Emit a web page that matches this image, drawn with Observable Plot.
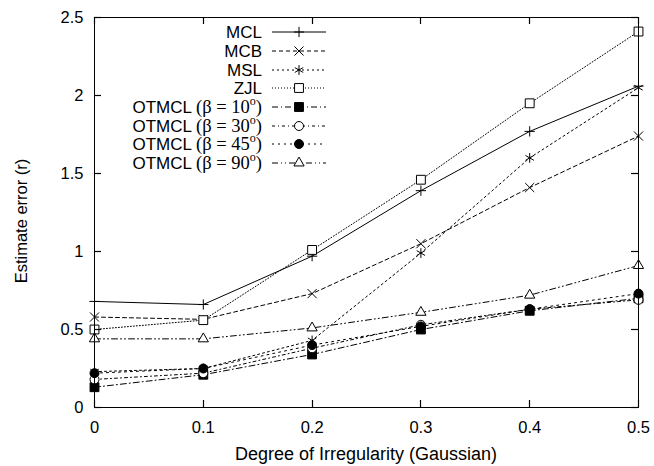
<!DOCTYPE html>
<html><head><meta charset="utf-8">
<script src="https://cdn.jsdelivr.net/npm/d3@7"></script>
<script src="https://cdn.jsdelivr.net/npm/@observablehq/plot@0.6"></script>
<style>
body{margin:0;background:#fff;}
#wrap{position:relative;width:654px;height:466px;}
#wrap svg{position:absolute;left:0;top:0;}
</style></head><body><div id="wrap"></div>
<script>
const xs = [0, 0.1, 0.2, 0.3, 0.4, 0.5];
const MCL = [0.68, 0.66, 0.97, 1.39, 1.77, 2.06];
const MCB = [0.58, 0.565, 0.73, 1.05, 1.41, 1.74];
const MSL = [0.23, 0.25, 0.43, 0.99, 1.60, 2.05];
const ZJL = [0.50, 0.56, 1.01, 1.46, 1.95, 2.41];
const OT10 = [0.13, 0.21, 0.34, 0.50, 0.62, 0.70];
const OT30 = [0.18, 0.22, 0.38, 0.53, 0.63, 0.69];
const OT45 = [0.22, 0.25, 0.40, 0.52, 0.63, 0.73];
const OT90 = [0.44, 0.44, 0.51, 0.61, 0.72, 0.91];
const names = ["MCL", "MCB", "MSL", "ZJL", "OTMCL", "OTMCL", "OTMCL", "OTMCL"];
const betas = [null, null, null, null, "10", "30", "45", "90"];
const xTicks = [0, 0.1, 0.2, 0.3, 0.4, 0.5];
const yTicks = [0, 0.5, 1, 1.5, 2, 2.5];
const xLabel = "Degree of Irregularity (Gaussian)";
const yLabel = "Estimate error (r)";

// styles (not data)
const dashes = [null, "4,3", "2,3", "1,2", "6,3,1,3", "3,3,1,3", "2,4", "6,3,1,3,1,3"];
const symbols = ["plus", "times", "asterisk", "square", "square", "circle", "circle", "triangle"];
const fills = ["none", "none", "none", "white", "black", "white", "black", "white"];
const symR = {plus: 3.4, times: 4.2, asterisk: 4.6, square: 5.0, circle: 4.5, triangle: 3.8};
const d3sym = {plus: d3.symbolPlus, times: d3.symbolTimes, asterisk: d3.symbolAsterisk, square: d3.symbolSquare, circle: d3.symbolCircle, triangle: d3.symbolTriangle};

const allValues = [MCL, MCB, MSL, ZJL, OT10, OT30, OT45, OT90];
const rows = allValues.flatMap((vals, i) => vals.map((v, j) => ({i, x: xs[j], y: v})));

const W = 654, H = 466, mL = 94, mR = 16, mT = 17, mB = 59;
const plotW = W - mL - mR, plotH = H - mT - mB, tickLen = 7;

const lineMarks = allValues.map((_, i) => Plot.line(rows.filter(d => d.i === i), {
  x: "x", y: "y", stroke: "black", strokeWidth: 1, strokeDasharray: dashes[i]
}));
const dotMarks = allValues.map((_, i) => Plot.dot(rows.filter(d => d.i === i), {
  x: "x", y: "y", symbol: () => symbols[i], r: symR[symbols[i]],
  stroke: "black", strokeWidth: 1, fill: fills[i]
}));

const chart = Plot.plot({
  width: W, height: H,
  marginLeft: mL, marginRight: mR, marginTop: mT, marginBottom: mB,
  style: {fontFamily: "'Liberation Sans', Arial, sans-serif", fontSize: "16.5px", color: "black", background: "white"},
  x: {domain: [0, 0.5]},
  y: {domain: [0, 2.5]},
  symbol: {type: "identity"},
  marks: [
    ...lineMarks,
    ...dotMarks,
    Plot.frame({stroke: "black", strokeWidth: 1}),
    Plot.axisX(xTicks, {anchor: "bottom", tickSize: 0, tickPadding: 14, label: null, fontSize: 16.5, tickFormat: d => String(d)}),
    Plot.axisY(yTicks, {anchor: "left", tickSize: 0, tickPadding: 11, label: null, fontSize: 16.5, tickFormat: d => String(d)})
  ]
});
document.getElementById("wrap").appendChild(chart);

const sx = chart.scale("x"), sy = chart.scale("y");

// overlay: inward ticks on all four sides, axis titles, legend
const ov = d3.select("#wrap").append("svg").attr("width", W).attr("height", H)
  .style("pointer-events", "none");
const tg = ov.append("g").attr("stroke", "black").attr("stroke-width", 1.2);
xTicks.forEach(v => {
  const px = Math.round(sx.apply(v)) + 0.5;
  tg.append("line").attr("x1", px).attr("x2", px).attr("y1", H - mB).attr("y2", H - mB - tickLen);
  tg.append("line").attr("x1", px).attr("x2", px).attr("y1", mT).attr("y2", mT + tickLen);
});
yTicks.forEach(v => {
  const py = Math.round(sy.apply(v)) + 0.5;
  tg.append("line").attr("x1", mL).attr("x2", mL + tickLen).attr("y1", py).attr("y2", py);
  tg.append("line").attr("x1", W - mR).attr("x2", W - mR - tickLen).attr("y1", py).attr("y2", py);
});

ov.append("text").attr("x", mL + plotW / 2).attr("y", 460).attr("text-anchor", "middle")
  .attr("font-family", "'Liberation Sans', Arial, sans-serif").attr("font-size", 18)
  .text(xLabel);
ov.append("text").attr("transform", "translate(27,221) rotate(-90)").attr("text-anchor", "middle")
  .attr("font-family", "'Liberation Sans', Arial, sans-serif").attr("font-size", 16.5)
  .text(yLabel);

const rowY = [32, 51, 70, 88, 107, 126, 144, 163];
const serif = "'Liberation Serif', 'Times New Roman', serif";
names.forEach((name, i) => {
  const y = rowY[i];
  const t = ov.append("text").attr("x", 262).attr("y", y + 6).attr("text-anchor", "end")
    .attr("font-family", "'Liberation Sans', Arial, sans-serif").attr("font-size", 17);
  if (betas[i] === null) {
    t.text(name);
  } else {
    t.append("tspan").text(name + " ");
    t.append("tspan").attr("font-family", serif).attr("font-size", 18.5).text("(\u03B2 = " + betas[i]);
    t.append("tspan").attr("font-family", serif).attr("font-size", 12).attr("dy", -8).text("o");
    t.append("tspan").attr("font-family", serif).attr("font-size", 18.5).attr("dy", 8).text(")");
  }
  ov.append("line").attr("x1", 272).attr("x2", 326).attr("y1", y).attr("y2", y)
    .attr("stroke", "black").attr("stroke-width", 1).attr("stroke-dasharray", dashes[i]);
  const r = symR[symbols[i]];
  ov.append("path").attr("transform", `translate(299,${y})`)
    .attr("d", d3.symbol(d3sym[symbols[i]], r * r * Math.PI)())
    .attr("stroke", "black").attr("stroke-width", 1).attr("fill", fills[i]);
});
</script></body></html>
